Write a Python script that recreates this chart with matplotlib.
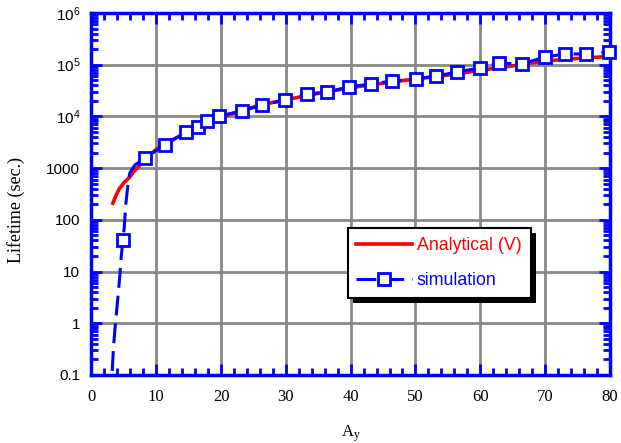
import numpy as np
import matplotlib
matplotlib.use('Agg')
import matplotlib.pyplot as plt
from matplotlib.patches import Rectangle
from matplotlib.ticker import FixedLocator, LogLocator, MultipleLocator, NullFormatter

## Data
# analytical curve
ana_x = [3.3, 3.8, 4.3, 5.0, 5.8, 6.5, 7.5, 8.5, 10, 12, 14, 16, 18, 20, 23, 26, 30,
         35, 40, 45, 50, 55, 60, 65, 70, 75, 80]
ana_y = [210, 300, 400, 520, 650, 850, 1150, 1600, 2300, 3300, 4400, 5800, 7600, 9500,
         12800, 16500, 21000, 28000, 36000, 44000, 53000, 63000, 78000, 95000, 118000,
         132000, 145000]

# simulation curve (first points have no marker)
sim_x = [3.2, 3.4, 3.7, 4.0, 4.4, 4.6, 4.86, 5.05, 5.3, 5.6, 5.9, 6.7,
         8.26, 11.3, 14.6, 16.4, 17.9, 19.7, 23.2, 26.3, 29.9, 33.3, 36.4, 39.7,
         43.1, 46.4, 50.1, 53.2, 56.4, 59.9, 62.9, 66.4, 70.0, 73.1, 76.3, 79.9]
sim_y = [0.12, 0.35, 1.0, 2.5, 9, 20, 41, 70, 200, 450, 800, 1150,
         1570, 2800, 5000, 6240, 8150, 10200, 12700, 16600, 20800, 27100, 29600, 37100,
         42400, 48400, 52800, 60400, 72200, 86300, 108000, 103000, 141000, 161000, 161000, 176000]
sim_marked = [6] + list(range(12, len(sim_x)))

x_ticks = [0, 10, 20, 30, 40, 50, 60, 70, 80]
y_ticks = [0.1, 1, 10, 100, 1000, 1e4, 1e5, 1e6]
y_labels = ['0.1', '1', '10', '100', '1000', r'$\mathregular{10^4}$',
            r'$\mathregular{10^5}$', r'$\mathregular{10^6}$']

plt.rcParams['font.family'] = 'Liberation Serif'
plt.rcParams['mathtext.fontset'] = 'custom'
plt.rcParams['mathtext.rm'] = 'Liberation Serif'
plt.rcParams['mathtext.it'] = 'Liberation Serif'

fig = plt.figure(figsize=(6.21, 4.43), dpi=100)
ax = fig.add_axes([0.1473, 0.1535, 0.8347, 0.8172])

blue = '#0000ff'
ax.plot(ana_x, ana_y, color='red', lw=2.6, label='Analytical (V)', zorder=3)
ax.plot(sim_x, sim_y, color=blue, lw=2.2, linestyle=(0, (6.5, 2.6)),
        marker='s', markersize=8, markerfacecolor='white', markeredgecolor=blue,
        markeredgewidth=2, markevery=sim_marked, label='simulation', zorder=4,
        clip_on=False)

ax.set_yscale('log')
ax.set_xlim(0, 80)
ax.set_ylim(0.1, 1e6)

ax.xaxis.set_major_locator(FixedLocator(x_ticks))
ax.xaxis.set_minor_locator(MultipleLocator(2))
ax.yaxis.set_major_locator(FixedLocator(y_ticks))
ax.yaxis.set_minor_locator(LogLocator(base=10, subs=np.arange(2, 10)))
ax.yaxis.set_minor_formatter(NullFormatter())
ax.set_xticklabels([str(t) for t in x_ticks], fontsize=12)
ax.set_yticklabels(y_labels, family='Liberation Sans', fontsize=11)

ax.grid(True, which='major', color='#888888', lw=2, zorder=0)
ax.set_axisbelow(True)

for s in ax.spines.values():
    s.set_color(blue)
    s.set_linewidth(2.5)
ax.tick_params(which='both', direction='in', top=True, right=True, color=blue, width=2)
ax.tick_params(which='major', length=8)
ax.tick_params(which='minor', length=5)
ax.tick_params(axis='x', which='major', pad=10)
ax.tick_params(axis='y', which='major', pad=8)

ax.set_xlabel(r'A$_\mathrm{y}$', fontsize=12, labelpad=13)
ax.set_ylabel('Lifetime (sec.)', fontsize=13)
ax.yaxis.set_label_coords(-0.128, 0.456)

leg = ax.legend(loc='upper left', bbox_to_anchor=(0.494, 0.405), fancybox=False,
                edgecolor='black', framealpha=1, labelcolor='linecolor',
                prop={'family': 'Liberation Sans', 'size': 12.8},
                handlelength=3.1, handletextpad=0.3, borderpad=0.5,
                labelspacing=1.0, numpoints=1, borderaxespad=0)
leg.get_frame().set_linewidth(1.5)

# thicker black drop shadow behind the legend box
fig.canvas.draw()
bb = leg.get_frame().get_window_extent().transformed(fig.transFigure.inverted())
dx, dy = 5 / 621, 5 / 443
fig.patches.append(Rectangle((bb.x0 + dx, bb.y0 - dy), bb.width, bb.height,
                             transform=fig.transFigure, facecolor='black',
                             edgecolor='none', zorder=5))
ax.set_zorder(1)
leg.remove()
fig.legends.append(leg)
leg.set_zorder(7)

fig.savefig('out.png', dpi=100)
